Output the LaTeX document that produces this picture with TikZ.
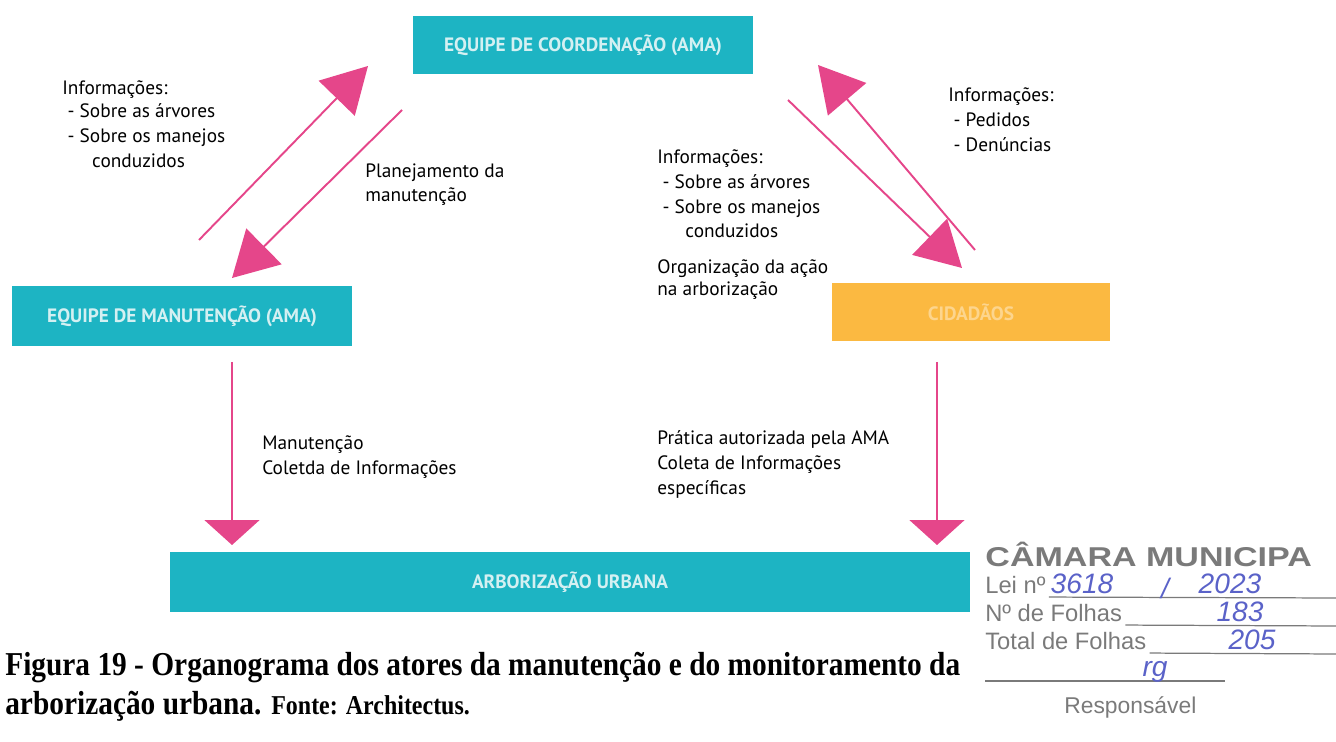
\documentclass[tikz,border=0pt]{standalone}
\usepackage{fontspec}
\setmainfont{Liberation Serif}
\newfontfamily\diagfont{PT Sans}
\newfontfamily\stampfont{Liberation Sans}
\usepackage{xcolor}
\usepackage{tikz}
\usetikzlibrary{arrows.meta, positioning}

\definecolor{amateal}{HTML}{1DB4C3}
\definecolor{amaorange}{HTML}{FBB941}
\definecolor{amapink}{HTML}{E5468A}
\definecolor{boxtext}{HTML}{D4F0F2}
\definecolor{stampgray}{HTML}{7A7A7A}
\definecolor{penblue}{HTML}{5A62C8}

\begin{document}
\begin{tikzpicture}[x=0.02cm, y=-0.02cm,
    actor/.style={fill=amateal, inner sep=0pt, text=boxtext, font=\diagfont\bfseries\fontsize{11}{13}\selectfont},
    note/.style={anchor=north west, inner sep=0pt, align=left, font=\diagfont\fontsize{11}{14.2}\selectfont},
    flow/.style={amapink, line width=1.1pt, -{Triangle[length=0.9cm, width=1.0cm]}},
    down/.style={amapink, line width=1.1pt, -{Triangle[length=0.5cm, width=1.1cm]}}]
    \useasboundingbox (0,0) rectangle (1336,742);

    % boxes
    \node[actor, minimum width=6.8cm, minimum height=1.16cm] (coord) at (583,45) {EQUIPE DE COORDENAÇÃO (AMA)};
    \node[actor, minimum width=6.8cm, minimum height=1.22cm] (manut) at (182,316) {EQUIPE DE MANUTENÇÃO (AMA)};
    \node[actor, fill=amaorange, text=amaorange!60!white, minimum width=5.56cm, minimum height=1.18cm] (cidad) at (971,312) {CIDADÃOS};
    \node[actor, minimum width=16cm, minimum height=1.22cm] (arbor) at (570,582) {ARBORIZAÇÃO URBANA};

    % arrow ends
    \coordinate (l1s) at (199,240);  \coordinate (l1e) at (368,66);
    \coordinate (l2s) at (402,110);  \coordinate (l2e) at (232,278);
    \coordinate (r1s) at (788,100);  \coordinate (r1e) at (962,268);
    \coordinate (r2s) at (975,250);  \coordinate (r2e) at (818,65);
    \coordinate (v1s) at (232,362);  \coordinate (v1e) at (232,545);
    \coordinate (v2s) at (937,362);  \coordinate (v2e) at (937,545);
    \draw[flow] (l1s) -- (l1e);
    \draw[flow] (l2s) -- (l2e);
    \draw[flow] (r1s) -- (r1e);
    \draw[flow] (r2s) -- (r2e);
    \draw[down] (v1s) -- (v1e);
    \draw[down] (v2s) -- (v2e);

    % labels
    \node[note] (infoL) at (62,80) {Informações:\\[-1pt]\hspace{3pt}- Sobre as árvores\\\hspace{3pt}- Sobre os manejos\\\hspace{17pt}conduzidos};
    \node[note] (plan) at (365,163) {Planejamento da\\manutenção};
    \node[note] (infoM) at (657,149) {Informações:\\\hspace{3pt}- Sobre as árvores\\\hspace{3pt}- Sobre os manejos\\\hspace{16pt}conduzidos};
    \node[note, font=\diagfont\fontsize{11}{12.8}\selectfont] (orga) at (657,259) {Organização da ação\\na arborização};
    \node[note] (infoR) at (948,87) {Informações:\\\hspace{3pt}- Pedidos\\\hspace{3pt}- Denúncias};
    \node[note] (mtc) at (262,435) {Manutenção\\Coletda de Informações};
    \node[note] (prat) at (657,430) {Prática autorizada pela AMA\\Coleta de Informações\\específicas};

    % caption
    \node[anchor=north west, inner sep=0pt, align=left, xscale=0.88, font=\bfseries\fontsize{19}{22}\selectfont] (capt) at (5,652)
        {Figura 19 - Organograma dos atores da manutenção e do monitoramento da\\arborização urbana. {\fontsize{15.5}{22}\selectfont Fonte: Architectus.}};

    % stamp
    \node[anchor=west, inner sep=0pt, xscale=1.25, text=stampgray, font=\stampfont\bfseries\fontsize{15.5}{17}\selectfont] (camara) at (985,554) {CÂMARA MUNICIPA};
    \node[anchor=west, inner sep=0pt, text=stampgray, font=\stampfont\fontsize{13.5}{15}\selectfont] (lei) at (985,585) {Lei nº};
    \node[anchor=west, inner sep=0pt, text=stampgray, font=\stampfont\fontsize{13.5}{15}\selectfont] (nfol) at (985,613) {Nº de Folhas};
    \node[anchor=west, inner sep=0pt, text=stampgray, font=\stampfont\fontsize{13.5}{15}\selectfont] (tfol) at (985,641) {Total de Folhas};
    \node[anchor=west, inner sep=0pt, text=stampgray, font=\stampfont\fontsize{13}{15}\selectfont] (resp) at (1064,707) {Responsável};
    \draw[stampgray, line width=0.7pt] (lei.south east) ++(3,3) -- (1336,598);
    \draw[stampgray, line width=0.7pt] (nfol.south east) ++(3,3) -- (1336,626);
    \draw[stampgray, line width=0.7pt] (tfol.south east) ++(3,3) -- (1336,654);
    \draw[stampgray, line width=0.7pt] (985,681) -- (1225,681);
    \foreach \px/\py/\txt in {1082/584/3618, 1165/588/{/}, 1230/584/2023, 1240/612/183, 1252/640/205, 1155/672/rg} {
        \node[inner sep=0pt, text=penblue, font=\stampfont\itshape\fontsize{16}{18}\selectfont] at (\px,\py) {\txt};
    }
\end{tikzpicture}
\end{document}
